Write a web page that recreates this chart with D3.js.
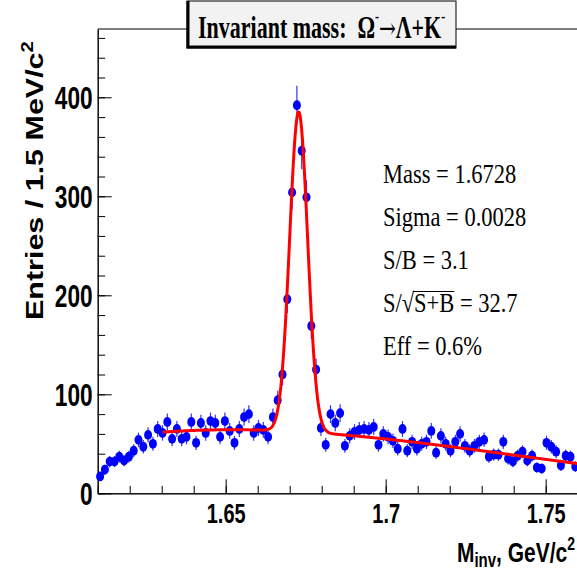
<!DOCTYPE html>
<html>
<head>
<meta charset="utf-8">
<script src="https://cdn.jsdelivr.net/npm/d3@7"></script>
<style>
  html, body { margin: 0; padding: 0; background: #ffffff; }
  svg { display: block; }
</style>
</head>
<body>
<svg id="chart" width="577" height="571"></svg>
<script>
// Histogram: Lambda+K- invariant mass, 1.5 MeV bins from 1.61 to 1.76 GeV/c^2
const massMin = 1.61;
const massMax = 1.76;
const binWidth = 0.0015;
const counts = [
  17, 24, 32, 32, 37, 33, 37, 43, 54, 47,
  59, 50, 65, 61, 72, 55, 65, 55, 57, 72,
  51, 71, 61, 73, 71, 57, 73, 63, 51, 65,
  77, 80, 61, 66, 64, 57, 77, 94, 120, 196,
  304, 392, 346, 299, 169, 125, 66, 49, 80, 71,
  81, 48, 58, 62, 64, 65, 64, 67, 49, 60,
  57, 53, 45, 65, 43, 52, 45, 50, 52, 63,
  41, 58, 50, 43, 52, 60, 48, 43, 48, 52,
  54, 37, 39, 39, 52, 35, 32, 38, 42, 33,
  38, 26, 25, 51, 47, 42, 28, 38, 37, 27
];

// Fit: gaussian peak on a cubic background (in powers of m - bkgOrigin)
const fitMass = 1.6728;
const fitSigma = 0.0028;
const fitAmp = 323;
const bkgOrigin = 1.64;
const bkgCoef = [63.5, 123.4, -5549, 18283];
const fitRange = [1.6303, 1.76];

// Axis ticks and texts
const xMajorTicks = [1.65, 1.7, 1.75];
const xMinorTicks = [1.61, 1.62, 1.63, 1.64, 1.65, 1.66, 1.67, 1.68, 1.69, 1.7, 1.71, 1.72, 1.73, 1.74, 1.75, 1.76];
const yMajorTicks = [0, 100, 200, 300, 400];
const yMinorTicks = [0, 20, 40, 60, 80, 100, 120, 140, 160, 180, 200, 220, 240, 260, 280, 300, 320, 340, 360, 380, 400, 420, 440, 460];
const statLines = ["Mass = 1.6728", "Sigma = 0.0028", "S/B = 3.1", "S/\u221AS+B = 32.7", "Eff = 0.6%"];

const svg = d3.select("#chart");
const W = 577, H = 571;
const plot = { left: 97.7, right: 577.7, top: 29, bottom: 493.3 };

const x = d3.scaleLinear().domain([massMin, massMax]).range([plot.left, plot.right]);
const y = d3.scaleLinear().domain([0, 469]).range([plot.bottom, plot.top]);

const sansBold = "'Liberation Sans', Arial, Helvetica, sans-serif";
const serif = "'Liberation Serif', 'Times New Roman', Times, serif";

// Frame top line
svg.append("line")
  .attr("x1", plot.left).attr("x2", W)
  .attr("y1", plot.top).attr("y2", plot.top)
  .attr("stroke", "#000").attr("stroke-width", 1);

// Y axis: minor then major ticks pointing into the frame
svg.append("g")
  .attr("transform", `translate(${plot.left},0)`)
  .call(d3.axisLeft(y).tickValues(yMinorTicks).tickSizeInner(-7.5).tickSizeOuter(0).tickFormat(""))
  .call(g => g.selectAll("text").remove());

const yAxisG = svg.append("g")
  .attr("transform", `translate(${plot.left},0)`)
  .call(d3.axisLeft(y).tickValues(yMajorTicks).tickSizeInner(-14).tickSizeOuter(0).tickPadding(5).tickFormat(d3.format("d")));
yAxisG.selectAll("text")
  .attr("x", null).attr("dy", null)
  .attr("transform", "translate(-5,11.5) scale(1,1.36)")
  .attr("font-family", sansBold).attr("font-weight", "bold")
  .attr("font-size", 22.7).attr("fill", "#000");

// X axis
svg.append("g")
  .attr("transform", `translate(0,${plot.bottom})`)
  .call(d3.axisBottom(x).tickValues(xMinorTicks).tickSizeInner(-7.5).tickSizeOuter(0).tickFormat(""))
  .call(g => g.selectAll("text").remove());

const xAxisG = svg.append("g")
  .attr("transform", `translate(0,${plot.bottom})`)
  .call(d3.axisBottom(x).tickValues(xMajorTicks).tickSizeInner(-14).tickSizeOuter(0).tickFormat(d => String(d)));
xAxisG.selectAll("text")
  .attr("y", null).attr("dy", null)
  .attr("transform", "translate(0,29.4) scale(1,1.35)")
  .attr("font-family", sansBold).attr("font-weight", "bold")
  .attr("font-size", 20).attr("fill", "#000");

svg.selectAll(".domain").attr("stroke", "#000").attr("stroke-width", 1);
svg.selectAll(".tick line").attr("stroke", "#000").attr("stroke-width", 1);

// Data: error bars and markers
const bins = counts.map((c, i) => ({ m: massMin + binWidth * (i + 0.5), n: c }));
const dataG = svg.append("g");
dataG.selectAll("line.err")
  .data(bins)
  .join("line")
  .attr("class", "err")
  .attr("x1", d => x(d.m)).attr("x2", d => x(d.m))
  .attr("y1", d => y(d.n - Math.sqrt(d.n))).attr("y2", d => y(d.n + Math.sqrt(d.n)))
  .attr("stroke", "#3333ff").attr("stroke-width", 1.2);
dataG.selectAll("ellipse")
  .data(bins)
  .join("ellipse")
  .attr("cx", d => x(d.m)).attr("cy", d => y(d.n))
  .attr("rx", 4).attr("ry", 4.9)
  .attr("fill", "#0000ff");

// Fit curve
function fitFn(m) {
  const v = m - bkgOrigin;
  const bkg = bkgCoef[0] + bkgCoef[1] * v + bkgCoef[2] * v * v + bkgCoef[3] * v * v * v;
  const g = fitAmp * Math.exp(-0.5 * Math.pow((m - fitMass) / fitSigma, 2));
  return bkg + g;
}
const fitPts = d3.range(fitRange[0], fitRange[1] + 1e-9, 0.0001).map(m => [m, fitFn(m)]);
svg.append("path")
  .datum(fitPts)
  .attr("d", d3.line().x(d => x(d[0])).y(d => y(d[1])).curve(d3.curveLinear))
  .attr("fill", "none")
  .attr("stroke", "#ff0000")
  .attr("stroke-width", 3)
  .attr("stroke-linejoin", "round");

// Axis titles
svg.append("text")
  .attr("transform", "translate(43,320) rotate(-90) scale(1.27,1)")
  .attr("font-family", sansBold).attr("font-weight", "bold")
  .attr("font-size", 24).attr("fill", "#000")
  .call(t => {
    t.append("tspan").text("Entries / 1.5 MeV/c");
    t.append("tspan").attr("font-size", 16).attr("dy", -10).text("2");
  });

svg.append("text")
  .attr("transform", "translate(575,562) scale(1,1.3)")
  .attr("text-anchor", "end")
  .attr("font-family", sansBold).attr("font-weight", "bold")
  .attr("font-size", 21).attr("fill", "#000")
  .call(t => {
    t.append("tspan").text("M");
    t.append("tspan").attr("font-size", 15).attr("dy", 4).text("inv");
    t.append("tspan").attr("dy", -4).text(", GeV/c");
    t.append("tspan").attr("font-size", 14).attr("dy", -9).text("2");
  });

// Statistics box text
const statX = 383;
const statBaselines = [183, 226, 269, 312, 355];
statLines.forEach((s, i) => {
  const g = svg.append("g").attr("transform", `translate(${statX},${statBaselines[i]}) scale(1,1.21)`);
  if (s.indexOf("\u221A") >= 0) {
    const parts = s.split("\u221A");         // "S/" , "S+B = 32.7"
    const rest = parts[1];
    const under = rest.split(" ")[0];        // "S+B"
    const after = rest.slice(under.length);  // " = 32.7"
    const t1 = g.append("text").attr("font-family", serif).attr("font-size", 22.5).text(parts[0] + "\u221A");
    const w1 = t1.node().getComputedTextLength();
    const t2 = g.append("text").attr("x", w1).attr("font-family", serif).attr("font-size", 22.5).text(under);
    const w2 = t2.node().getComputedTextLength();
    g.append("line")
      .attr("x1", w1 - 1).attr("x2", w1 + w2)
      .attr("y1", -17).attr("y2", -17)
      .attr("stroke", "#000").attr("stroke-width", 0.9);
    g.append("text").attr("x", w1 + w2).attr("font-family", serif).attr("font-size", 22.5)
      .attr("xml:space", "preserve").style("white-space", "pre").text(after);
  } else {
    g.append("text").attr("font-family", serif).attr("font-size", 22.5).text(s);
  }
});

// Title box
const titleBox = { x: 187, y: 1, w: 269, h: 47 };
svg.append("rect")
  .attr("x", titleBox.x).attr("y", titleBox.y)
  .attr("width", titleBox.w).attr("height", titleBox.h)
  .attr("fill", "#f2f2f2").attr("stroke", "#000").attr("stroke-width", 1);
svg.append("path")
  .attr("d", `M${titleBox.x + 1},${titleBox.y} V${titleBox.y + titleBox.h - 1} H${titleBox.x + titleBox.w}`)
  .attr("fill", "none").attr("stroke", "#000").attr("stroke-width", 3);

svg.append("text")
  .attr("transform", "translate(198,38) scale(1,1.45)")
  .attr("font-family", serif).attr("font-weight", "bold")
  .attr("font-size", 22).attr("fill", "#000")
  .attr("xml:space", "preserve").style("white-space", "pre")
  .call(t => {
    t.append("tspan").text("Invariant mass:  \u03A9");
    t.append("tspan").attr("font-size", 12).attr("dy", -11).text("-");
    t.append("tspan").attr("font-family", "'DejaVu Serif', serif").attr("font-weight", "normal")
      .attr("font-size", 20).attr("dy", 11).text("\u2192");
    t.append("tspan").text("\u039B+K");
    t.append("tspan").attr("font-size", 12).attr("dy", -11).text("-");
  });
</script>
</body>
</html>
